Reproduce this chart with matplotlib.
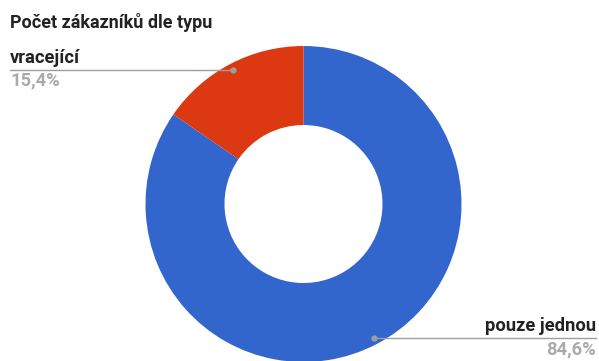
import matplotlib
matplotlib.use("Agg")
import matplotlib.pyplot as plt
import numpy as np

title = "Počet zákazníků dle typu"
categories = ["pouze jednou", "vracející"]
values = [84.6, 15.4]
pct_labels = ["84,6%", "15,4%"]
colors = ["#3366cc", "#dc3912"]

plt.rcParams['font.family'] = ['Roboto', 'DejaVu Sans']

W, H = 599, 361
fig = plt.figure(figsize=(W / 100, H / 100), dpi=100)
ax = fig.add_axes([0, 0, 1, 1])

cx, cy = 303.5, H - 204
R = 158
wedges, _ = ax.pie(values, colors=colors, startangle=90, counterclock=False,
                   radius=R, center=(cx, cy),
                   wedgeprops=dict(width=R * 0.5, linewidth=0, antialiased=True))
ax.set_xlim(0, W)
ax.set_ylim(0, H)
ax.set_aspect('equal')
ax.axis('off')

fig.text(10 / W, 1 - 22 / H, title, fontsize=13, fontweight='bold',
         color='#222222', ha='left', va='center')

for w, cat, pct in zip(wedges, categories, pct_labels):
    ang = np.deg2rad((w.theta1 + w.theta2) / 2)
    dx, dy = np.cos(ang), np.sin(ang)
    px, py = cx + 0.96 * R * dx, cy + 0.96 * R * dy
    ax.plot([px], [py], 'o', color='#9e9e9e', markersize=3.5, zorder=5)
    if dx < 0:
        x_end, ha = 10, 'left'
    else:
        x_end, ha = W - 3, 'right'
    ax.plot([px, x_end], [py, py], color='#9e9e9e', linewidth=1.0, zorder=4)
    ax.text(x_end, py + 12, cat, fontsize=13.2, fontweight='bold', color='#222222',
            ha=ha, va='center')
    ax.text(x_end, py - 11, pct, fontsize=13.2, fontweight='bold', color='#aaaaaa',
            ha=ha, va='center')

fig.savefig("out.png", dpi=100)
